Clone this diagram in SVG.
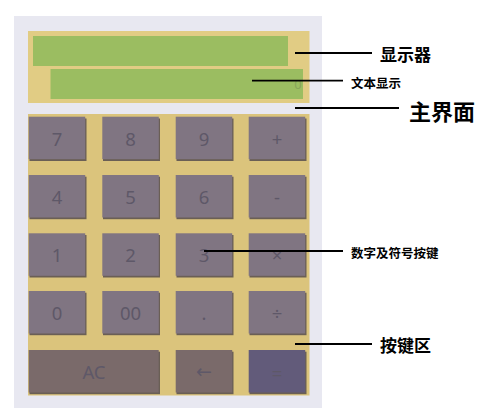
<svg xmlns="http://www.w3.org/2000/svg" width="493" height="413" viewBox="0 0 493 413">
<style>
.btn{fill:#807582}
.sh{fill:#6a5f55}
.bt{font-family:"Noto Sans","Open Sans",sans-serif;font-size:18.5px;fill:#5e5868;text-anchor:middle;dominant-baseline:central}
.ln{stroke:#000;stroke-width:1.8;fill:none}
.lb{font-family:"Noto Sans CJK SC","Noto Sans",sans-serif;fill:#000;dominant-baseline:central}
.big{font-size:17px;font-weight:bold}
.huge{font-size:22px;font-weight:bold}
.sm{font-size:12.5px;font-weight:bold}
</style>
<rect width="493" height="413" fill="#fff"/>
<g id="main">
<rect x="14" y="16" width="308" height="392" fill="#e8e8f1"/>
</g>
<g id="display">
<rect x="28" y="31" width="281.5" height="72" fill="#e1cc84"/>
<rect x="33" y="36" width="255" height="30" fill="#9bbd61"/>
<g id="text-display">
<rect x="50.5" y="69" width="252.5" height="30" fill="#9bbd61"/>
<text x="298" y="84" font-family="Noto Sans,sans-serif" font-size="13" fill="#88a45a" text-anchor="middle" dominant-baseline="central">0</text>
</g>
</g>
<g id="keypad">
<rect x="28" y="114" width="281.5" height="281.5" fill="#dbc47c"/>
<g id="keys">
<rect class="sh" x="29.5" y="118.5" width="57" height="42.5"/><rect class="btn" x="28.7" y="116.7" width="56.5" height="42.5"/><text class="bt" x="57" y="138">7</text>
<rect class="sh" x="103" y="118.5" width="57" height="42.5"/><rect class="btn" x="102.3" y="116.7" width="56.5" height="42.5"/><text class="bt" x="130.5" y="138">8</text>
<rect class="sh" x="176.5" y="118.5" width="57" height="42.5"/><rect class="btn" x="175.7" y="116.7" width="56.5" height="42.5"/><text class="bt" x="204" y="138">9</text>
<rect class="sh" x="249.5" y="118.5" width="57" height="42.5"/><rect class="btn" x="248.7" y="116.7" width="56.5" height="42.5"/><text class="bt" x="277" y="138">+</text>

<rect class="sh" x="29.5" y="176.7" width="57" height="42.5"/><rect class="btn" x="28.7" y="175" width="56.5" height="42.5"/><text class="bt" x="57" y="196">4</text>
<rect class="sh" x="103" y="176.7" width="57" height="42.5"/><rect class="btn" x="102.3" y="175" width="56.5" height="42.5"/><text class="bt" x="130.5" y="196">5</text>
<rect class="sh" x="176.5" y="176.7" width="57" height="42.5"/><rect class="btn" x="175.7" y="175" width="56.5" height="42.5"/><text class="bt" x="204" y="196">6</text>
<rect class="sh" x="249.5" y="176.7" width="57" height="42.5"/><rect class="btn" x="248.7" y="175" width="56.5" height="42.5"/><text class="bt" x="277" y="196">-</text>

<rect class="sh" x="29.5" y="235" width="57" height="42.5"/><rect class="btn" x="28.7" y="233.3" width="56.5" height="42.5"/><text class="bt" x="57" y="254.5">1</text>
<rect class="sh" x="103" y="235" width="57" height="42.5"/><rect class="btn" x="102.3" y="233.3" width="56.5" height="42.5"/><text class="bt" x="130.5" y="254.5">2</text>
<rect class="sh" x="176.5" y="235" width="57" height="42.5"/><rect class="btn" x="175.7" y="233.3" width="56.5" height="42.5"/><text class="bt" x="204" y="254.5">3</text>
<rect class="sh" x="249.5" y="235" width="57" height="42.5"/><rect class="btn" x="248.7" y="233.3" width="56.5" height="42.5"/><text class="bt" x="277" y="254.5">×</text>

<rect class="sh" x="29.5" y="292.7" width="57" height="42.5"/><rect class="btn" x="28.7" y="291" width="56.5" height="42.5"/><text class="bt" x="57" y="312">0</text>
<rect class="sh" x="103" y="292.7" width="57" height="42.5"/><rect class="btn" x="102.3" y="291" width="56.5" height="42.5"/><text class="bt" x="130.5" y="312">00</text>
<rect class="sh" x="176.5" y="292.7" width="57" height="42.5"/><rect class="btn" x="175.7" y="291" width="56.5" height="42.5"/><text class="bt" x="204" y="312">.</text>
<rect class="sh" x="249.5" y="292.7" width="57" height="42.5"/><rect class="btn" x="248.7" y="291" width="56.5" height="42.5"/><text class="bt" x="277" y="312">÷</text>

<rect class="sh" x="29.5" y="351.7" width="130.5" height="42.5"/><rect fill="#7a6a6a" x="28.7" y="350" width="130" height="42.5"/><text class="bt" x="94" y="371.5">AC</text>
<rect class="sh" x="176.5" y="351.7" width="57" height="42.5"/><rect fill="#7a6a6a" x="175.7" y="350" width="56.5" height="42.5"/><text class="bt" x="204" y="370.5" style="font-family:'DejaVu Sans',sans-serif;font-size:19px">←</text>
<rect class="sh" x="249.5" y="351.7" width="57" height="42.5"/><rect fill="#625b7a" x="248.7" y="350" width="56.5" height="42.5"/><text class="bt" x="277" y="372" fill="#4e4a68">=</text>
</g>
</g>
<g id="connectors">
<line class="ln" x1="295" y1="53" x2="372" y2="53"/>
<line class="ln" x1="252" y1="80.7" x2="343" y2="80.7"/>
<line class="ln" x1="295" y1="108" x2="399" y2="108"/>
<line class="ln" x1="204" y1="251" x2="343" y2="251"/>
<line class="ln" x1="295" y1="344" x2="372" y2="344"/>
</g>
<g id="labels">
<text class="lb big" x="380" y="53.5">显示器</text>
<text class="lb sm" x="351" y="82">文本显示</text>
<text class="lb huge" x="409" y="109.5">主界面</text>
<text class="lb sm" x="351" y="252.5">数字及符号按键</text>
<text class="lb big" x="380" y="344.5">按键区</text>
</g>
</svg>
